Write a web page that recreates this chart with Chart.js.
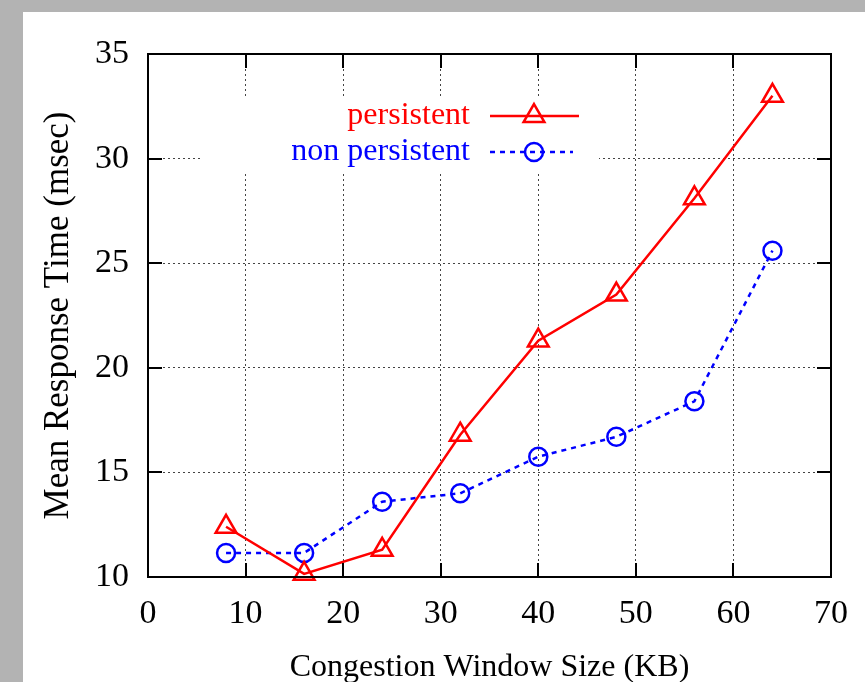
<!DOCTYPE html>
<html>
<head>
<meta charset="utf-8">
<script src="https://cdn.jsdelivr.net/npm/chart.js@4/dist/chart.umd.min.js"></script>
<style>
    html, body { margin: 0; padding: 0; background: #b3b3b3; overflow: hidden; }
    #wrap { position: absolute; left: 23px; top: 12px; width: 842px; height: 670px; background: #fff; }
</style>
</head>
<body>
<div id="wrap"><canvas id="chartResponse" width="842" height="670"></canvas></div>
<script>
// data
const windowSizes = [8, 16, 24, 32, 40, 48, 56, 64];
const persistent = [12.4, 10.15, 11.3, 16.8, 21.3, 23.5, 28.1, 33.0];
const nonPersistent = [11.15, 11.15, 13.6, 14.0, 15.75, 16.7, 18.4, 25.6];
const xTicks = [0, 10, 20, 30, 40, 50, 60, 70];
const yTicks = [10, 15, 20, 25, 30, 35];

const serif = 'Liberation Serif';
const gridColor = '#444';

function toPoints(values) {
    return windowSizes.map((x, i) => ({x: x, y: values[i]}));
}

// gnuplot-like frame, inward ticks and boxed key
const gnuplotFrame = {
    id: 'gnuplotFrame',
    beforeDatasetsDraw(chart) {
        const ctx = chart.ctx;
        ctx.save();
        ctx.fillStyle = '#fff';
        ctx.fillRect(180, 86, 396, 75);
        ctx.restore();
    },
    afterDraw(chart) {
        const ctx = chart.ctx;
        const area = chart.chartArea;
        const xs = chart.scales.x;
        const ys = chart.scales.y;
        const tick = 14;
        ctx.save();
        ctx.strokeStyle = '#000';
        ctx.lineWidth = 2;
        ctx.setLineDash([]);
        ctx.beginPath();
        xTicks.slice(1, -1).forEach(v => {
            const px = Math.round(xs.getPixelForValue(v));
            ctx.moveTo(px, area.bottom); ctx.lineTo(px, area.bottom - tick);
            ctx.moveTo(px, area.top); ctx.lineTo(px, area.top + tick);
        });
        yTicks.slice(1, -1).forEach(v => {
            const py = Math.round(ys.getPixelForValue(v));
            ctx.moveTo(area.left, py); ctx.lineTo(area.left + tick, py);
            ctx.moveTo(area.right, py); ctx.lineTo(area.right - tick, py);
        });
        ctx.stroke();
        ctx.strokeRect(area.left, area.top, area.right - area.left, area.bottom - area.top);

        // key
        ctx.font = '32px "' + serif + '"';
        ctx.textAlign = 'right';
        ctx.textBaseline = 'middle';
        const rows = [104, 140];
        const ends = [556, 550];
        chart.data.datasets.forEach((ds, i) => {
            const y = rows[i];
            ctx.fillStyle = ds.borderColor;
            ctx.fillText(ds.label, 447, y);
            ctx.strokeStyle = ds.borderColor;
            ctx.lineWidth = ds.borderWidth;
            ctx.setLineDash(ds.borderDash || []);
            ctx.beginPath();
            ctx.moveTo(467, y);
            ctx.lineTo(ends[i], y);
            ctx.stroke();
            ctx.setLineDash([]);
            ctx.lineWidth = ds.pointBorderWidth;
            ctx.fillStyle = 'rgba(0,0,0,0)';
            Chart.helpers.drawPoint(ctx, {
                pointStyle: ds.pointStyle,
                radius: ds.pointRadius,
                rotation: 0,
                borderWidth: ds.pointBorderWidth
            }, 511, y);
        });
        ctx.restore();
    }
};

new Chart('chartResponse', {
    type: 'line',
    data: {
        datasets: [{
            label: 'persistent',
            data: toPoints(persistent),
            borderColor: '#ff0000',
            borderWidth: 2.5,
            pointStyle: 'triangle',
            pointRadius: 12,
            pointBorderWidth: 2.5,
            pointBackgroundColor: 'rgba(0,0,0,0)',
            pointBorderColor: '#ff0000',
            clip: false
        }, {
            label: 'non persistent',
            data: toPoints(nonPersistent),
            borderColor: '#0000ff',
            borderWidth: 2.5,
            borderDash: [5, 5],
            pointStyle: 'circle',
            pointRadius: 9,
            pointBorderWidth: 2.5,
            pointBackgroundColor: 'rgba(0,0,0,0)',
            pointBorderColor: '#0000ff',
            clip: false
        }]
    },
    options: {
        responsive: false,
        animation: false,
        devicePixelRatio: 1,
        layout: {padding: {left: 0, top: 42, right: 33, bottom: 0}},
        plugins: {
            legend: {display: false},
            tooltip: {enabled: false}
        },
        scales: {
            x: {
                type: 'linear',
                min: 0,
                max: 70,
                afterFit(scale) { scale.height = 105; },
                afterBuildTicks(scale) { scale.ticks = xTicks.map(v => ({value: v})); },
                ticks: {
                    color: '#000',
                    padding: 17,
                    maxRotation: 0,
                    font: {family: serif, size: 34}
                },
                grid: {color: gridColor, lineWidth: 1, drawTicks: false},
                border: {display: false, dash: [2, 3]},
                title: {
                    display: true,
                    text: 'Congestion Window Size (KB)',
                    color: '#000',
                    font: {family: serif, size: 32},
                    padding: {top: 0, bottom: -5}
                }
            },
            y: {
                min: 10,
                max: 35,
                afterFit(scale) { scale.width = 125; },
                afterBuildTicks(scale) { scale.ticks = yTicks.map(v => ({value: v})); },
                ticks: {
                    color: '#000',
                    padding: 19,
                    font: {family: serif, size: 34}
                },
                grid: {color: gridColor, lineWidth: 1, drawTicks: false},
                border: {display: false, dash: [2, 3]},
                title: {
                    display: true,
                    text: 'Mean Response Time (msec)',
                    color: '#000',
                    font: {family: serif, size: 35},
                    padding: {top: 15, bottom: 0}
                }
            }
        }
    },
    plugins: [gnuplotFrame]
});
</script>
</body>
</html>
